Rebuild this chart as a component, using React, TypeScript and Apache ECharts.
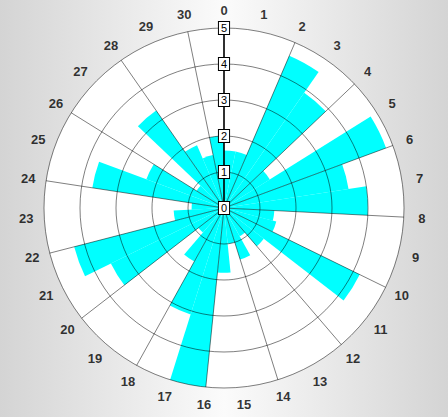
import React, { useEffect, useRef } from "react";
import * as echarts from "echarts";

const categories: string[] = [
  "0", "1", "2", "3", "4", "5", "6", "7", "8", "9", "10", "11", "12", "13", "14", "15",
  "16", "17", "18", "19", "20", "21", "22", "23", "24", "25", "26", "27", "28", "29", "30",
];
const values: number[] = [
  1.6, 1.6, 4.6, 3.9, 1.5, 4.8, 3.5, 4.0, 1.4, 1.5, 4.2, 1.4, 0.9, 1.5, 1.0, 1.8,
  5.0, 3.1, 1.7, 0.9, 3.5, 4.3, 1.4, 0.9, 3.7, 2.3, 0.9, 3.3, 1.9, 1.5, 2.0,
];
const radiusMin = 0;
const radiusMax = 5;
const radiusStep = 1;

export default function App() {
  const ref = useRef<HTMLDivElement>(null);
  useEffect(() => {
    document.body.style.margin = "0";
    if (!ref.current) return;
    const chart = echarts.init(ref.current, null, { renderer: "svg" });
    const gridLine = "rgba(0,0,0,0.5)";
    const n = categories.length;
    const font = "Liberation Sans, Arial, sans-serif";
    chart.setOption({
      animation: false,
      backgroundColor: {
        type: "linear",
        x: 0,
        y: 0,
        x2: 1,
        y2: 0,
        colorStops: [
          { offset: 0, color: "#d4d4d4" },
          { offset: 0.5, color: "#fbfbfb" },
          { offset: 1, color: "#d4d4d4" },
        ],
      },
      polar: [
        { center: [224, 208], radius: 180 },
        { center: [224, 208], radius: 180 },
        { center: [224, 208], radius: 198 },
      ],
      angleAxis: [
        {
          polarIndex: 0,
          type: "category",
          data: categories,
          startAngle: 90,
          clockwise: true,
          boundaryGap: true,
          z: 10,
          axisLine: { show: false },
          axisTick: { show: false },
          axisLabel: { show: false },
          splitLine: { show: true, lineStyle: { color: gridLine, width: 1 } },
        },
        {
          polarIndex: 1,
          type: "value",
          min: 0,
          max: n,
          interval: 1,
          startAngle: 90,
          clockwise: true,
          z: 0,
          axisLine: { show: false },
          axisTick: { show: false },
          axisLabel: { show: false },
          splitLine: { show: false },
        },
        {
          polarIndex: 2,
          type: "value",
          min: 0,
          max: n,
          interval: 1,
          startAngle: 90,
          clockwise: true,
          show: false,
        },
      ],
      radiusAxis: [
        {
          polarIndex: 0,
          type: "value",
          min: radiusMin,
          max: radiusMax,
          interval: radiusStep,
          z: 10,
          axisLine: { show: true, lineStyle: { color: "#000", width: 1.5 } },
          axisTick: { show: false },
          splitLine: { show: true, lineStyle: { color: gridLine, width: 1 } },
          axisLabel: {
            show: true,
            showMinLabel: true,
            showMaxLabel: true,
            margin: 0,
            align: "center",
            verticalAlign: "middle",
            fontFamily: font,
            fontSize: 11,
            color: "#000",
            backgroundColor: "#fff",
            borderColor: "#000",
            borderWidth: 1,
            padding: [1, 2, 0, 2],
          },
        },
        {
          polarIndex: 1,
          type: "value",
          min: radiusMin,
          max: radiusMax,
          interval: radiusMax,
          z: 0,
          axisLine: { show: false },
          axisTick: { show: false },
          axisLabel: { show: false },
          splitLine: { show: false },
          splitArea: { show: true, areaStyle: { color: ["#ffffff"] } },
        },
        {
          polarIndex: 2,
          type: "value",
          min: 0,
          max: 1,
          show: false,
        },
      ],
      series: [
        {
          type: "bar",
          coordinateSystem: "polar",
          polarIndex: 0,
          data: values,
          barCategoryGap: "0%",
          itemStyle: { color: "#00ffff" },
          z: 2,
        },
        {
          type: "scatter",
          coordinateSystem: "polar",
          polarIndex: 2,
          data: categories.map((c, i) => [1, i]),
          symbolSize: 1,
          itemStyle: { color: "rgba(0,0,0,0)" },
          silent: true,
          z: 5,
          label: {
            show: true,
            position: "inside",
            formatter: (p: any) => categories[p.dataIndex],
            fontFamily: font,
            fontWeight: "bold",
            fontSize: 13,
            color: "#000",
            textBorderWidth: 0,
            textBorderColor: "transparent",
          },
        },
      ],
    });
    return () => chart.dispose();
  }, []);
  return <div ref={ref} style={{ width: 448, height: 417 }} />;
}
